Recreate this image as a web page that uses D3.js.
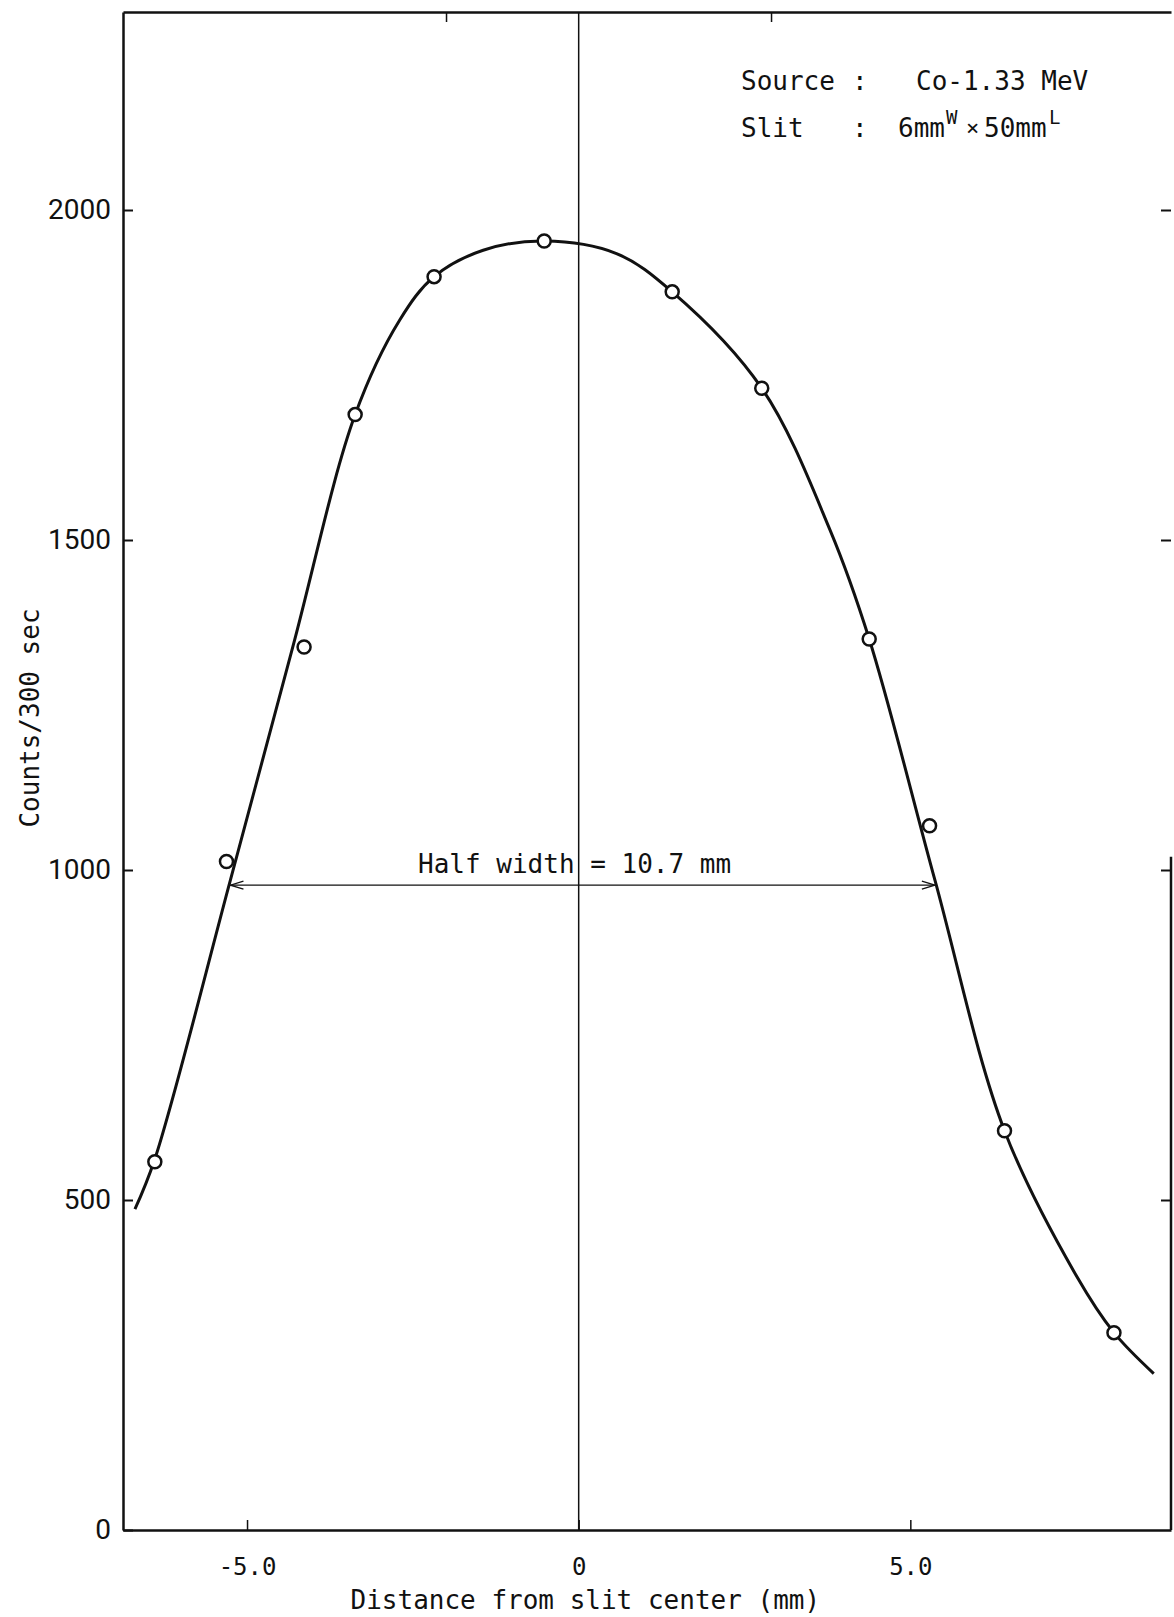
<!DOCTYPE html>
<html>
<head>
<meta charset="utf-8">
<script src="https://cdn.jsdelivr.net/npm/d3@7"></script>
<style>
  body { margin: 0; background: #fff; }
  svg { display: block; }
  .mono { font-family: "DejaVu Sans Mono", "Liberation Mono", monospace; fill: #111; }
  .ylab text { font-family: "Liberation Sans Narrow", "Roboto", sans-serif; font-size: 28px; fill: #111; }
  .xlab text { font-family: "DejaVu Sans Mono", "Liberation Mono", monospace; font-size: 24px; fill: #111; }
</style>
</head>
<body>
<script>
// measured points (distance mm, counts/300 s)
const pointX = [-6.39, -5.31, -4.14, -3.37, -2.18, -0.52, 1.41, 2.76, 4.38, 5.29, 6.42, 8.07]
const pointY = [558, 1013, 1338, 1690, 1899, 1953, 1876, 1730, 1350, 1067, 605, 299]

// hand drawn smooth curve
const curveX = [-6.69, -6.39, -5.25, -4.31, -3.37, -2.70, -2.18, -1.44, -0.52, 0.57, 1.41, 2.76, 3.79, 4.38, 5.37, 6.42, 7.51, 8.07, 8.67]
const curveY = [486, 562, 985, 1338, 1690, 1833, 1899, 1939, 1953, 1934, 1876, 1730, 1515, 1350, 985, 605, 384, 299, 237]

const xTicks = [-5.0, 0, 5.0]
const yTicks = [0, 500, 1000, 1500, 2000]
const topTicks = [-2.0, 2.9]
const rightTicks = [500, 1000, 1500, 2000]

const halfLeft = -5.25
const halfRight = 5.37
const halfLevel = 977

const width = 1174
const height = 1617
const plotLeft = 123, plotRight = 1171, plotTop = 12, plotBottom = 1530

const svg = d3.select('body').append('svg').attr('width', width).attr('height', height)

const x = d3.scaleLinear().domain([-6.87, 8.93]).range([plotLeft, plotRight])
const y = d3.scaleLinear().domain([0, 2300]).range([plotBottom, plotTop])

// left axis
const yAxis = svg.append('g').attr('class', 'ylab').attr('transform', `translate(${plotLeft},0)`)
  .call(d3.axisLeft(y).tickValues(yTicks).tickSizeInner(-10).tickSizeOuter(0).tickPadding(12).tickFormat(d3.format('d')))
yAxis.select('.domain').attr('stroke', '#111').attr('stroke-width', 2.5)
yAxis.selectAll('.tick line').attr('stroke', '#111').attr('stroke-width', 2)

// bottom axis
const xAxis = svg.append('g').attr('class', 'xlab').attr('transform', `translate(0,${plotBottom})`)
  .call(d3.axisBottom(x).tickValues(xTicks).tickSizeInner(-10).tickSizeOuter(0).tickPadding(28)
    .tickFormat(d => d === 0 ? '0' : d.toFixed(1)))
xAxis.select('.domain').attr('stroke', '#111').attr('stroke-width', 2.5)
xAxis.selectAll('.tick line').attr('stroke', '#111').attr('stroke-width', 1.5)

// top axis
const topAxis = svg.append('g').attr('transform', `translate(0,${plotTop})`)
  .call(d3.axisTop(x).tickValues(topTicks).tickSizeInner(-10).tickSizeOuter(0).tickFormat(''))
topAxis.select('.domain').attr('stroke', '#111').attr('stroke-width', 2.5)
topAxis.selectAll('.tick line').attr('stroke', '#111').attr('stroke-width', 1.5)

// right axis, the frame only runs below ~1000
const rightAxis = svg.append('g').attr('transform', `translate(${plotRight},0)`)
  .call(d3.axisRight(y).tickValues(rightTicks).tickSizeInner(-10).tickSizeOuter(0).tickFormat(''))
rightAxis.select('.domain').remove()
rightAxis.selectAll('.tick line').attr('stroke', '#111').attr('stroke-width', 2)
svg.append('line')
  .attr('x1', plotRight).attr('x2', plotRight)
  .attr('y1', y(1020)).attr('y2', y(0))
  .attr('stroke', '#111').attr('stroke-width', 2.5)

// slit center line
svg.append('line')
  .attr('x1', x(0)).attr('x2', x(0))
  .attr('y1', y(2300)).attr('y2', y(0))
  .attr('stroke', '#111').attr('stroke-width', 1.5)

// fitted curve
const curveData = curveX.map((d, i) => [d, curveY[i]])
const line = d3.line().x(d => x(d[0])).y(d => y(d[1])).curve(d3.curveCatmullRom.alpha(0.5))
svg.append('path')
  .datum(curveData)
  .attr('d', line)
  .attr('fill', 'none')
  .attr('stroke', '#111')
  .attr('stroke-width', 3)

// half width arrow
svg.append('defs').append('marker')
  .attr('id', 'arrow')
  .attr('viewBox', '-15 -6 16 12')
  .attr('refX', 0).attr('refY', 0)
  .attr('markerWidth', 16).attr('markerHeight', 12)
  .attr('markerUnits', 'userSpaceOnUse')
  .attr('orient', 'auto-start-reverse')
  .append('path')
  .attr('d', 'M-13,-4 L0,0 L-13,4')
  .attr('fill', 'none')
  .attr('stroke', '#111')
  .attr('stroke-width', 1.3)

svg.append('line')
  .attr('x1', x(halfLeft)).attr('x2', x(halfRight))
  .attr('y1', y(halfLevel)).attr('y2', y(halfLevel))
  .attr('stroke', '#111').attr('stroke-width', 1.3)
  .attr('marker-start', 'url(#arrow)')
  .attr('marker-end', 'url(#arrow)')

svg.append('text').attr('class', 'mono')
  .attr('x', 418).attr('y', 873)
  .attr('font-size', 26)
  .text('Half width = 10.7 mm')

// points
const points = pointX.map((d, i) => [d, pointY[i]])
svg.selectAll('circle.pt')
  .data(points)
  .enter()
  .append('circle')
  .attr('class', 'pt')
  .attr('cx', d => x(d[0]))
  .attr('cy', d => y(d[1]))
  .attr('r', 6.5)
  .attr('fill', '#fff')
  .attr('stroke', '#111')
  .attr('stroke-width', 2.5)

// legend text
const legend = svg.append('g').attr('class', 'mono').attr('font-size', 26)
legend.append('text').attr('x', 741).attr('y', 90).text('Source')
legend.append('text').attr('x', 852).attr('y', 90).text(':')
legend.append('text').attr('x', 916).attr('y', 90).text('Co-1.33 MeV')
legend.append('text').attr('x', 741).attr('y', 137).text('Slit')
legend.append('text').attr('x', 852).attr('y', 137).text(':')
legend.append('text').attr('x', 898).attr('y', 137).text('6mm')
legend.append('text').attr('x', 946).attr('y', 124).attr('font-size', 19).text('W')
legend.append('text').attr('x', 966).attr('y', 135).attr('font-size', 22).text('×')
legend.append('text').attr('x', 984).attr('y', 137).text('50mm')
legend.append('text').attr('x', 1049).attr('y', 124).attr('font-size', 19).text('L')

// axis titles
svg.append('text').attr('class', 'mono')
  .attr('transform', `translate(${x(0.1)},1609)`)
  .attr('text-anchor', 'middle')
  .attr('font-size', 26)
  .text('Distance from slit center (mm)')

svg.append('text').attr('class', 'mono')
  .attr('transform', 'translate(39,718) rotate(-90)')
  .attr('text-anchor', 'middle')
  .attr('font-size', 26)
  .text('Counts/300 sec')
</script>
</body>
</html>
